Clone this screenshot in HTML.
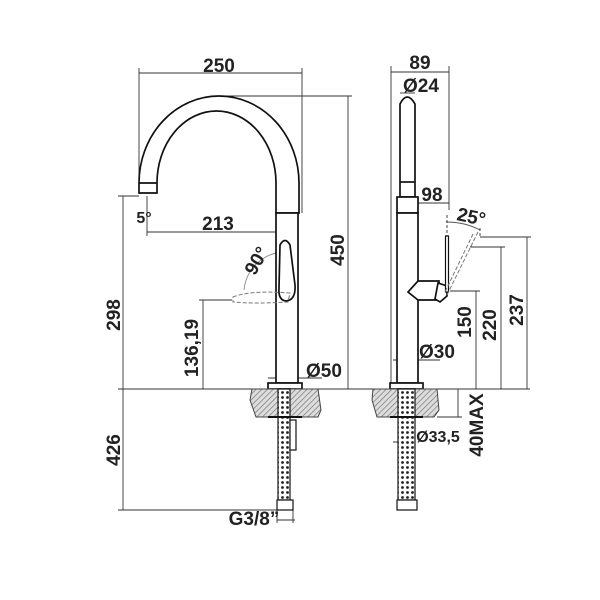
<!DOCTYPE html>
<html><head><meta charset="utf-8"><style>
html,body{margin:0;padding:0;background:#fff}
svg{display:block}
text{font-family:"Liberation Sans",Arial,sans-serif;font-weight:bold;fill:#222}
</style></head><body>
<svg width="600" height="600" viewBox="0 0 600 600" xmlns="http://www.w3.org/2000/svg">
<defs>
<pattern id="h" width="4" height="4" patternUnits="userSpaceOnUse" patternTransform="rotate(45)">
<rect width="4" height="4" fill="#ddd"/><line x1="0" y1="0" x2="0" y2="4" stroke="#777" stroke-width="1.4"/></pattern>
<pattern id="b" width="5" height="5" patternUnits="userSpaceOnUse">
<rect width="5" height="5" fill="#fff"/><circle cx="2.5" cy="2.5" r="1.4" fill="#222"/></pattern>
</defs>
<g stroke="#333" stroke-width="0.9" fill="none">
<line x1="139" y1="73" x2="302" y2="73"/>
<line x1="139" y1="68" x2="139" y2="183"/>
<line x1="302" y1="68" x2="302" y2="213"/>
<line x1="217" y1="96" x2="352" y2="96"/>
<line x1="348" y1="96" x2="348" y2="389"/>
<line x1="123" y1="196" x2="123" y2="510"/>
<line x1="118" y1="196" x2="139" y2="196"/>
<line x1="147" y1="196" x2="147" y2="236"/>
<line x1="147" y1="232" x2="285" y2="232"/>
<line x1="285" y1="228" x2="285" y2="300"/>
<line x1="203" y1="300" x2="203" y2="389"/>
<line x1="199" y1="300" x2="232" y2="300"/>
<line x1="118" y1="389" x2="530" y2="389"/>
<line x1="268" y1="378" x2="322" y2="378"/>
<line x1="118" y1="510" x2="293" y2="510"/>
<line x1="277" y1="510" x2="277" y2="523"/>
<line x1="293" y1="510" x2="293" y2="523"/>
<line x1="277" y1="520" x2="295" y2="520"/>
<path d="M244 290 A42 42 0 0 1 283 252" stroke="#888"/>
<line x1="391" y1="72" x2="449" y2="72"/>
<line x1="391" y1="66" x2="391" y2="383"/>
<line x1="449" y1="66" x2="449" y2="210"/>
<line x1="400" y1="93" x2="415" y2="93"/>
<line x1="408" y1="198" x2="408" y2="210"/>
<line x1="408" y1="203" x2="449" y2="203"/>
<path d="M446 222 Q465 222 480 230" stroke="#555"/>
<line x1="447" y1="215" x2="447" y2="236" stroke-dasharray="3,2"/>
<line x1="480" y1="228" x2="480" y2="236" stroke-dasharray="3,2"/>
<line x1="476" y1="291" x2="476" y2="389"/>
<line x1="450" y1="291" x2="480" y2="291"/>
<line x1="501" y1="247" x2="501" y2="389"/>
<line x1="470" y1="247" x2="505" y2="247"/>
<line x1="527" y1="237" x2="527" y2="389"/>
<line x1="480" y1="237" x2="531" y2="237"/>
<line x1="393" y1="360" x2="440" y2="360"/>
<line x1="458" y1="389" x2="458" y2="417"/>
<line x1="437" y1="417" x2="462" y2="417"/>
<line x1="393" y1="442" x2="415" y2="442"/>
</g>
<g stroke="#111" stroke-width="1.7" fill="#fff">
<path d="M139 193 L139 183 A80 87 0 0 1 299 183 L299 213 L276 213 L276 183 A59.5 72 0 0 0 157 183 L157 193 Z"/>
<line x1="139" y1="183" x2="157" y2="183"/>
<rect x="276" y="213" width="22" height="170"/>
<rect x="268" y="383" width="34" height="6"/>
<path d="M280 245 Q285 236 290 245 L295 285 Q296 300 286 301 Q278 300 279 288 Z"/>
<path d="M400 197 L400 104 Q407 90 415 104 L415 197 Z"/>
<line x1="400" y1="182" x2="415" y2="182"/>
<rect x="397" y="197" width="21" height="16"/>
<rect x="397" y="213" width="21" height="170"/>
<rect x="390" y="383" width="33" height="6"/>
<path d="M418 281 L439 281 L439 300 L418 300 L408 292 Z"/>
<path d="M438 283 L447 286 L447 296 L440 302 L435 299 Z"/>
<rect x="445.5" y="236" width="3" height="56" stroke-width="1.2"/>
</g>
<g stroke="#777" stroke-width="1" fill="none" stroke-dasharray="4,2">
<path d="M233 297 Q250 290 290 293 L288 302 Q255 304 233 302 Z"/>
<line x1="478" y1="232" x2="447" y2="295"/>
<line x1="473" y1="234" x2="445" y2="292"/>
</g>
<path d="M252 389 L318 389 L321 410 L318 417 L256 417 L250 400 Z" fill="url(#h)" stroke="#444"/>
<path d="M373 389 L437 389 L439 410 L434 417 L377 417 L372 400 Z" fill="url(#h)" stroke="#444"/>
<g stroke="#111" stroke-width="1.2">
<rect x="278" y="389" width="12" height="111" fill="url(#b)"/>
<rect x="290" y="420" width="6" height="30" fill="#fff"/>
<rect x="277" y="500" width="16" height="10" fill="#fff"/>
<rect x="398" y="389" width="17" height="111" fill="url(#b)"/>
<rect x="397" y="500" width="20" height="10" fill="#fff"/>
<line x1="268" y1="417" x2="302" y2="417" stroke-width="2"/>
<line x1="390" y1="417" x2="423" y2="417" stroke-width="2"/>
</g>
<g font-size="19">
<text x="219" y="72" text-anchor="middle">250</text>
<text x="218" y="230" text-anchor="middle">213</text>
<text x="144" y="223" text-anchor="middle" font-size="16">5°</text>
<text x="0" y="0" transform="translate(262 264) rotate(-60)" text-anchor="middle">90°</text>
<text x="0" y="0" transform="translate(344 250) rotate(-90)" text-anchor="middle">450</text>
<text x="0" y="0" transform="translate(120 315) rotate(-90)" text-anchor="middle">298</text>
<text x="0" y="0" transform="translate(198 348) rotate(-90)" text-anchor="middle">136,19</text>
<text x="0" y="0" transform="translate(120 450) rotate(-90)" text-anchor="middle">426</text>
<text x="324" y="377" text-anchor="middle">Ø50</text>
<text x="254" y="525" text-anchor="middle">G3/8”</text>
<text x="420" y="69" text-anchor="middle">89</text>
<text x="421" y="92" text-anchor="middle">Ø24</text>
<text x="432" y="201" text-anchor="middle">98</text>
<text x="0" y="0" transform="translate(470 223) rotate(12)" text-anchor="middle">25°</text>
<text x="0" y="0" transform="translate(471 322) rotate(-90)" text-anchor="middle">150</text>
<text x="0" y="0" transform="translate(496 325) rotate(-90)" text-anchor="middle">220</text>
<text x="0" y="0" transform="translate(523 310) rotate(-90)" text-anchor="middle">237</text>
<text x="437" y="358" text-anchor="middle">Ø30</text>
<text x="438" y="442" text-anchor="middle" font-size="16">Ø33,5</text>
<text x="0" y="0" transform="translate(483 425) rotate(-90)" text-anchor="middle">40MAX</text>
</g>
</svg>
</body></html>
